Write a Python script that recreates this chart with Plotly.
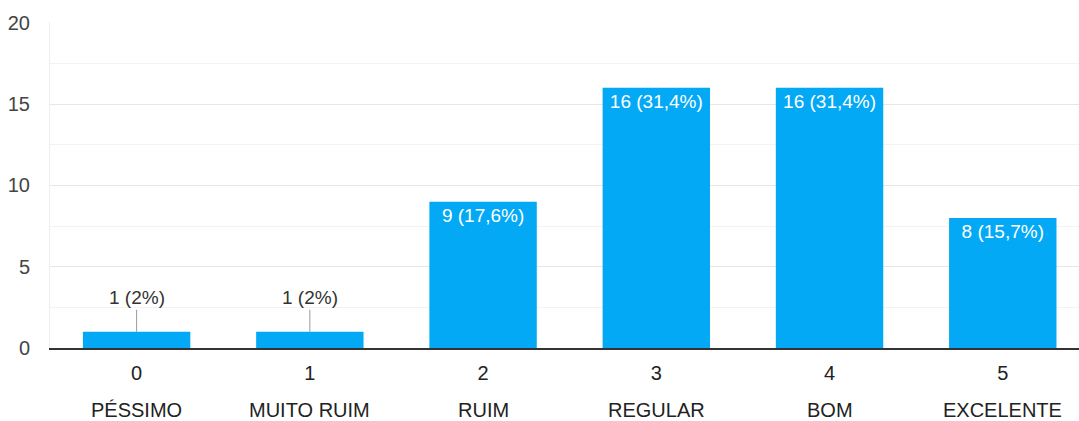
import plotly.graph_objects as go

scores = [0, 1, 2, 3, 4, 5]
names = ["PÉSSIMO", "MUITO RUIM", "RUIM", "REGULAR", "BOM", "EXCELENTE"]
counts = [1, 1, 9, 16, 16, 8]
percents = ["2%", "2%", "17,6%", "31,4%", "31,4%", "15,7%"]
y_ticks = [0, 5, 10, 15, 20]

labels = [f"{c} ({p})" for c, p in zip(counts, percents)]
inside = [lab if c >= 3 else "" for lab, c in zip(labels, counts)]

fig = go.Figure()
fig.add_trace(go.Bar(
    x=scores, y=counts, width=0.62,
    marker=dict(color="#03a9f4", line=dict(width=0)),
    text=inside, textposition="inside", insidetextanchor="end",
    textangle=0,
    textfont=dict(family="Liberation Sans, Arial", size=19, color="white"),
    cliponaxis=False,
))

# leader-line labels for small bars
for s, c, lab in zip(scores, counts, labels):
    if c < 3:
        fig.add_annotation(x=s, y=c, text=lab, showarrow=True, arrowhead=0,
                           arrowwidth=1, arrowcolor="#999999", ax=0, ay=-34,
                           standoff=0,
                           font=dict(family="Liberation Sans, Arial", size=19, color="#333333"))

# category names below numeric ticks
for s, n in zip(scores, names):
    fig.add_annotation(x=s, xref="x", y=0, yref="paper", yshift=-62,
                       text=n, showarrow=False, yanchor="middle",
                       font=dict(family="Liberation Sans, Arial", size=20, color="#222222"))

fig.update_layout(
    width=1079, height=421,
    margin=dict(l=50, r=0, t=22, b=73),
    plot_bgcolor="white", paper_bgcolor="white",
    showlegend=False, bargap=0.38,
    font=dict(family="Liberation Sans, Arial"),
)
fig.update_xaxes(
    range=[-0.5, 5.44], tickmode="array", tickvals=scores,
    ticktext=[str(s) for s in scores],
    tickfont=dict(size=20, color="#222222"),
    showline=True, linecolor="#333333", linewidth=1.5,
    showgrid=False, ticks="", ticklabelstandoff=6,
)
fig.update_yaxes(
    range=[0, 20.05], tickvals=y_ticks,
    tickfont=dict(size=20, color="#444444"),
    showgrid=True, gridcolor="#e6e6e6", gridwidth=1,
    minor=dict(dtick=2.5, showgrid=True, gridcolor="#f3f3f3", gridwidth=1),
    showline=True, linecolor="#eeeeee", linewidth=1,
    zeroline=False, ticklabelstandoff=15,
)

fig.write_html("out.html")
